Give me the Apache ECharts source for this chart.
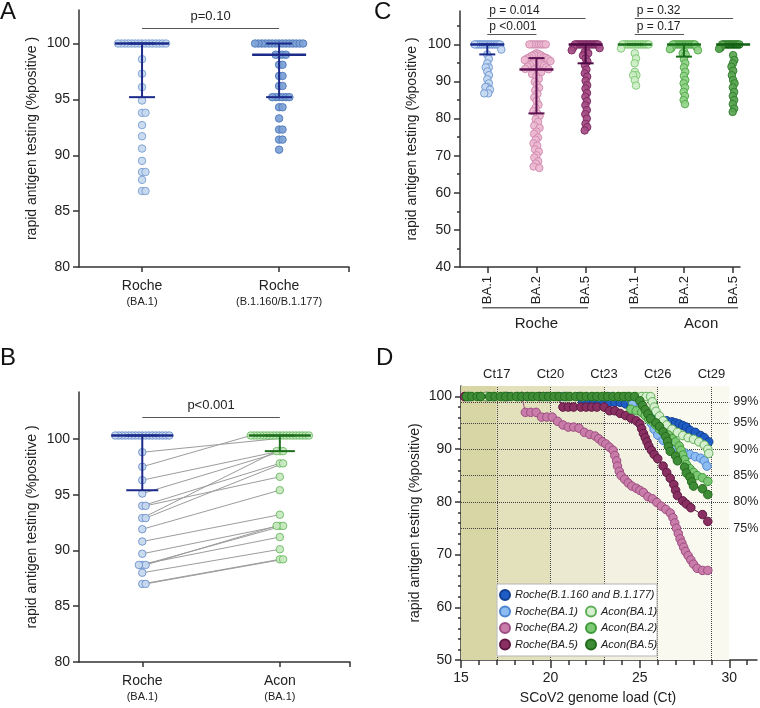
<!DOCTYPE html>
<html>
<head>
<meta charset="utf-8">
<script src="https://cdn.jsdelivr.net/npm/echarts@6/dist/echarts.min.js"></script>
<style>
  html, body { margin: 0; padding: 0; background: #fff; }
  #main { width: 760px; height: 708px; }
</style>
</head>
<body>
<div id="main"></div>
<script>
const FONT = 'Liberation Sans, Arial, Helvetica, sans-serif'

/* ---------- A: Roche BA.1 vs B.1.160/B.1.177 ---------- */
const aLabels = ['Roche', 'Roche']
const aSubLabels = ['(BA.1)', '(B.1.160/B.1.177)']
const aRocheBA1 = [100, 100, 100, 100, 100, 100, 100, 100, 100, 100, 100, 100, 100, 100, 100,
  98.6, 97.3, 96.1, 94.9, 93.8, 93.8, 92.7, 91.7, 90.6, 89.5, 88.5, 88.5, 87.8, 86.8, 86.8]
const aRocheB1160 = [100, 100, 100, 100, 100, 100, 100, 100, 100, 100, 100, 100, 100, 100, 100,
  99.0, 99.0, 99.0, 99.0, 98.1, 98.1, 97.1, 97.1, 96.2, 96.2,
  95.2, 95.2, 95.2, 95.2, 95.2, 95.2, 94.3, 94.3, 93.3, 92.3, 92.3, 91.4, 91.4, 90.5]
// [上限, 中位数, 下限]
const aBars = [[100, 100, 95.2], [100, 99.0, 95.2]]
const aP = 'p=0.10'

/* ---------- B: paired Roche vs Acon (BA.1) ---------- */
const bLabels = ['Roche', 'Acon']
const bSubLabels = ['(BA.1)', '(BA.1)']
const bRoche = [100.3, 100.3, 100.3, 100.3, 100.3, 100.3, 100.3, 100.3, 100.3, 100.3, 100.3, 100.3, 100.3, 100.3, 100.3, 100.3, 100.3,
  98.8, 97.5, 96.3, 95.1, 94.0, 94.0, 92.9, 92.9, 91.9, 90.8, 89.7, 88.7, 88.7, 88.7, 88.0, 87.0, 87.0]
const bAcon = [100.3, 100.3, 100.3, 100.3, 100.3, 100.3, 100.3, 100.3, 100.3, 100.3, 100.3, 100.3, 100.3, 100.3, 100.3, 100.3, 100.3,
  100.3, 100.3, 98.9, 98.9, 97.8, 96.6, 98.9, 97.8, 95.4, 93.2, 92.2, 92.2, 92.2, 91.2, 90.1, 89.2, 89.2]
const bBars = [[100.3, 100.3, 95.4], [100.3, 100.3, 98.9]]
const bP = 'p<0.001'

/* ---------- C: variants per test ---------- */
const cCats = ['BA.1', 'BA.2', 'BA.5', 'BA.1', 'BA.2', 'BA.5']
const cGroups = ['Roche', 'Acon']
const cRocheBA1 = aRocheBA1
const cRocheBA2 = [100, 100, 100, 100, 100, 100, 100, 100,
  97.6, 97.4, 97.2, 97.0, 96.9, 96.6, 96.5, 96.4, 96.2, 96.0,
  95.8, 95.6, 95.5, 95.2, 95.0, 94.8, 94.6, 94.4, 94.3, 94.0, 93.8, 93.6, 93.4, 93.3, 93.2,
  92.9, 92.5, 92.0, 91.4, 90.7, 89.9, 89.1, 88.3, 87.6, 86.7, 85.7, 84.8, 83.7, 82.9, 82.0, 81.4,
  80.7, 79.8, 79.1, 78.1, 77.5, 76.5, 75.9, 74.9, 74.3, 73.3, 72.7, 71.7, 71.1, 70.1, 69.5, 68.5, 67.9, 67.1, 66.7]
const cRocheBA5 = [100, 100, 100, 100, 100, 100, 100, 100, 100, 100, 100, 100, 100, 100,
  99.2, 99.0, 98.4, 98.2, 97.9, 97.6, 97.0, 96.2, 95.4, 94.4, 93.2, 92.2, 91.3, 90.2, 89.0,
  88.1, 86.9, 85.9, 84.7, 83.6, 82.3, 81.2, 80.0, 78.6, 77.7, 76.8]
const cAconBA1 = [100, 100, 100, 100, 100, 100, 100, 100, 100, 100, 100, 100, 100, 100, 100, 100,
  98.9, 97.6, 96.2, 94.9, 92.6, 91.7, 91.7, 90.4, 88.9]
const cAconBA2 = [100, 100, 100, 100, 100, 100, 100, 100, 100, 100, 100, 100, 100, 100, 100,
  99.3, 99.0, 98.7, 98.4, 98.0, 97.6, 97.2, 96.0, 94.9, 93.8, 92.6, 91.5, 90.4, 89.5, 88.4,
  87.2, 86.1, 85.0, 83.9]
const cAconBA5 = [100, 100, 100, 100, 100, 100, 100, 100, 100, 100, 100, 100, 100, 100, 100,
  99.4, 99.1, 98.8, 97.1, 95.8, 94.9, 94.0, 92.9, 91.7, 90.4, 89.5, 88.4, 87.2, 86.1, 85.0,
  83.9, 82.7, 81.8]
const cBars = [[100, 100, 97.3], [96.3, 93.2, 81.4], [100, 100, 94.9],
  [100, 100, 100], [100, 100, 96.7], [100, 100, 99.2]]
// p值标注: [起点类别, 终点类别, 高度, 文本]
const cPvals = [[1, 3, 107.0, 'p = 0.014'], [1, 2, 102.7, 'p <0.001'],
  [4, 6, 107.0, 'p = 0.32'], [4, 5, 102.7, 'p = 0.17']]

/* ---------- D: cumulative positivity vs Ct ---------- */
const dCtMarks = [17, 20, 23, 26, 29]
const dPctMarks = [99, 95, 90, 85, 80, 75]
const dRocheB1160 = [[15.4, 100], [16.5, 100], [17.6, 100], [18.7, 100], [19.8, 100], [20.9, 100], [21.6, 100],
  [21.8, 98.9], [22.1, 98.9], [22.4, 98.9], [22.7, 98.9], [23.0, 98.9], [23.3, 98.9], [23.6, 98.9], [23.9, 98.9],
  [24.2, 98.6], [24.5, 98.0], [24.8, 97.6], [25.0, 97.3], [25.3, 96.6], [25.6, 96.0], [25.9, 95.6], [26.2, 95.4],
  [26.5, 95.4], [26.8, 95.2], [27.0, 95.0], [27.2, 94.8], [27.4, 94.5], [27.6, 94.2], [27.8, 93.6], [28.1, 93.2],
  [28.4, 92.6], [28.6, 92.2], [28.85, 91.4]]
const dRocheBA1 = [[15.5, 100], [16.8, 100], [18.1, 100], [19.4, 100], [20.7, 100], [22.0, 100], [23.3, 100], [24.3, 100],
  [24.6, 98.6], [24.9, 97.6], [25.2, 97.3], [25.45, 96.4], [25.65, 94.9], [25.8, 93.8], [26.0, 92.7], [26.3, 91.7],
  [26.6, 90.6], [26.9, 90.0], [27.2, 89.6], [27.5, 89.3], [27.8, 89.0], [28.1, 88.6], [28.4, 88.3], [28.6, 87.8],
  [28.75, 86.8]]
const dRocheBA2 = [[15.2, 100], [16.4, 100], [17.5, 100], [18.4, 100], [18.6, 97.0], [18.9, 97.0], [19.2, 97.0],
  [19.5, 96.1], [19.8, 96.1], [20.1, 96.1], [20.4, 95.3], [20.7, 94.6], [21.0, 94.2], [21.3, 94.2], [21.6, 94.0],
  [21.9, 93.2], [22.2, 92.8], [22.5, 92.5], [22.7, 92.0], [22.9, 91.4], [23.1, 91.0], [23.3, 90.4], [23.5, 89.8],
  [23.6, 88.8], [23.7, 87.8], [23.75, 86.8], [23.85, 85.8], [23.95, 85.0], [24.15, 84.3], [24.35, 83.6],
  [24.55, 83.0], [24.8, 82.6], [25.0, 82.2], [25.2, 81.8], [25.45, 81.0], [25.7, 80.6], [25.95, 79.9],
  [26.2, 79.2], [26.45, 78.6], [26.7, 77.9], [26.85, 77.0], [26.95, 76.0], [27.05, 75.0], [27.15, 74.0],
  [27.25, 73.0], [27.35, 72.2], [27.45, 71.4], [27.55, 70.6], [27.7, 69.8], [27.85, 69.0], [28.0, 68.2],
  [28.2, 67.4], [28.5, 67.0], [28.8, 67.0]]
const dRocheBA5 = [[15.2, 100], [16.4, 100], [17.4, 100], [18.4, 100], [19.4, 100], [20.4, 100],
  [20.7, 98.0], [21.0, 98.0], [21.3, 98.0], [21.7, 98.0], [22.0, 98.0], [22.3, 98.0], [22.6, 98.0], [23.0, 98.0],
  [23.3, 97.3], [23.6, 97.3], [23.9, 96.8], [24.2, 96.4], [24.5, 95.9], [24.8, 95.4], [25.0, 94.8], [25.1, 93.9],
  [25.2, 93.0], [25.3, 92.2], [25.4, 91.4], [25.5, 90.6], [25.65, 89.8], [25.8, 89.0], [26.0, 88.2], [26.3, 86.8],
  [26.5, 85.6], [26.7, 84.5], [26.9, 83.3], [27.0, 82.2], [27.1, 81.2], [27.4, 80.2], [27.6, 79.6], [27.85, 78.9],
  [28.5, 77.6], [28.8, 76.3]]
const dAconBA1 = [[15.5, 100], [16.4, 100], [17.3, 100], [18.2, 100], [19.1, 100], [20.0, 100], [20.9, 100],
  [21.8, 100], [22.7, 100], [23.5, 100], [24.0, 100], [24.4, 100], [24.8, 100], [25.1, 100], [25.35, 100],
  [25.6, 100], [25.7, 99.0], [25.8, 98.0], [25.9, 97.2], [26.1, 96.3], [26.3, 95.4], [26.5, 94.6], [26.8, 93.8],
  [27.1, 93.2], [27.4, 92.6], [27.7, 92.2], [28.0, 91.9], [28.3, 91.4], [28.6, 90.8], [28.8, 90.0], [28.85, 89.2]]
const dAconBA2 = [[15.4, 100], [16.1, 100], [16.8, 100], [17.5, 100], [18.2, 100], [18.9, 100], [19.6, 100],
  [20.3, 100], [21.0, 100], [21.7, 100], [22.4, 100], [23.1, 100], [23.8, 100], [24.2, 100],
  [24.5, 97.6], [24.8, 97.3], [25.1, 97.0], [25.3, 96.4], [25.5, 95.7], [25.7, 95.3], [25.9, 94.6], [26.1, 93.8],
  [26.3, 93.3], [26.6, 92.7], [26.8, 92.0], [27.0, 91.4], [27.2, 90.6], [27.3, 89.8], [27.4, 88.9], [27.5, 88.0],
  [27.6, 87.1], [27.8, 86.3], [28.0, 85.6], [28.2, 85.0], [28.5, 84.6], [28.8, 83.9]]
const dAconBA5 = [[15.3, 100], [15.6, 100], [15.9, 100], [16.1, 100], [16.6, 100], [16.9, 100], [17.2, 100],
  [17.5, 100], [17.8, 100], [18.1, 100], [18.4, 100], [18.7, 100], [19.0, 100], [19.3, 100], [19.6, 100],
  [19.9, 100], [20.2, 100], [20.5, 100], [20.8, 100], [21.1, 100], [21.4, 100], [21.7, 100], [22.0, 100],
  [22.3, 100], [22.6, 100], [22.9, 100], [23.2, 100], [23.5, 100], [23.8, 100], [24.1, 100], [24.4, 100],
  [24.7, 100], [25.0, 99.2], [25.15, 98.3], [25.3, 97.5], [25.45, 96.7], [25.6, 95.8], [25.9, 95.0],
  [26.1, 94.3], [26.3, 93.3], [26.45, 92.4], [26.55, 91.5], [26.6, 90.5], [26.7, 89.6], [27.0, 88.7],
  [27.1, 87.8], [27.5, 86.6], [27.6, 85.5], [27.8, 84.7], [27.9, 83.8], [28.0, 83.0], [28.5, 82.5], [28.8, 81.4]]

/* ---------- 布局 ---------- */
const L = {
  A: { left: 79, top: 10, width: 270, height: 257, xMin: 0.08, xMax: 4.02, yMin: 80, yMax: 103 },
  B: { left: 79, top: 392, width: 271, height: 270, xMin: 0.08, xMax: 4.02, yMin: 80, yMax: 104.2 },
  C: { left: 460, top: 11, width: 280, height: 256, xMin: 0.445, xMax: 6.14, yMin: 40, yMax: 109 },
  D: { left: 461, top: 386, width: 296, height: 274, xMin: 15, xMax: 31.55, yMin: 50, yMax: 102 }
}
const pxX = g => g.width / (g.xMax - g.xMin)
const pxY = g => g.height / (g.yMax - g.yMin)

// 蜂群散点: 像素空间里避让, 再按列宽压缩
const swarm = (values, center, g, dot, maxHalf) => {
  const placed = []
  values.forEach(v => {
    const y = v * pxY(g)
    let off = 0
    for (let k = 0; k < 800; k++) {
      const o = (k % 2 ? 1 : -1) * Math.ceil(k / 2) * 0.5
      if (placed.every(p => (p.x - o) ** 2 + (p.y - y) ** 2 >= dot * dot)) { off = o; break }
    }
    placed.push({ x: off, y })
  })
  const widest = Math.max(0.001, ...placed.map(p => Math.abs(p.x)))
  const k = Math.min(1, maxHalf / widest)
  return placed.map((p, i) => [center + p.x * k / pxX(g), values[i]])
}

const axisLineStyle = { color: '#333', width: 1.5 }
const labelStyle = { color: '#222', fontSize: 14, fontFamily: FONT }

const scatter = (name, xi, yi, pts, fill, border, size, extra) => Object.assign({
  name, type: 'scatter', xAxisIndex: xi, yAxisIndex: yi, data: pts,
  symbol: 'circle', symbolSize: size, z: 3,
  itemStyle: { color: fill, borderColor: border, borderWidth: 1, opacity: 0.92 }
}, extra || {})

const errBar = (xi, yi, x, stat, color, midHalf, capHalf) => ({
  type: 'custom', xAxisIndex: xi, yAxisIndex: yi, z: 6, silent: true,
  data: [[x, stat[0], stat[1], stat[2]]],
  renderItem: (params, api) => {
    const xv = api.value(0)
    const hi = api.coord([xv, api.value(1)])
    const mid = api.coord([xv, api.value(2)])
    const lo = api.coord([xv, api.value(3)])
    const seg = (x1, y1, x2, y2, w) => ({ type: 'line', shape: { x1, y1, x2, y2 }, style: { stroke: color, lineWidth: w } })
    return {
      type: 'group', children: [
        seg(hi[0], hi[1], lo[0], lo[1], 2),
        seg(hi[0] - capHalf, hi[1], hi[0] + capHalf, hi[1], 2),
        seg(lo[0] - capHalf, lo[1], lo[0] + capHalf, lo[1], 2),
        seg(mid[0] - midHalf, mid[1], mid[0] + midHalf, mid[1], 2.5)
      ]
    }
  }
})

const yAxisBase = (gi, g, ticks, name, gap) => ({
  type: 'value', gridIndex: gi, min: g.yMin, max: g.yMax, position: 'left',
  axisLine: { show: true, onZero: false, lineStyle: axisLineStyle },
  axisTick: { show: true, customValues: ticks, length: 6, lineStyle: axisLineStyle },
  axisLabel: { customValues: ticks, margin: 9, ...labelStyle },
  splitLine: { show: false },
  name, nameLocation: 'middle', nameGap: gap,
  nameTextStyle: { fontSize: 14, color: '#222', fontFamily: FONT }
})
// 次刻度: 叠加一条不画轴线的同范围坐标轴
const minorAxis = (type, gi, g, ticks, len) => ({
  type: 'value', gridIndex: gi, position: type === 'x' ? 'bottom' : 'left',
  min: type === 'x' ? g.xMin : g.yMin, max: type === 'x' ? g.xMax : g.yMax,
  axisLine: { show: false, onZero: false }, axisLabel: { show: false }, splitLine: { show: false },
  axisTick: { show: true, customValues: ticks, length: len, lineStyle: axisLineStyle }
})
const pairAxis = (gi, g, names, subs) => ({
  type: 'value', gridIndex: gi, min: g.xMin, max: g.xMax, position: 'bottom',
  axisLine: { show: true, onZero: false, lineStyle: axisLineStyle },
  axisTick: { show: true, customValues: [1, 3, g.xMax], length: 5, lineStyle: axisLineStyle },
  axisLabel: {
    customValues: [1, 3], margin: 11,
    formatter: v => { const i = Math.round((v - 1) / 2); return `{m|${names[i]}}\n{s|${subs[i]}}` },
    rich: {
      m: { fontSize: 14, lineHeight: 16, color: '#222', fontFamily: FONT },
      s: { fontSize: 11, lineHeight: 16, color: '#222', fontFamily: FONT }
    }
  },
  splitLine: { show: false }
})

const yName = 'rapid antigen testing (%positive )'

/* ---------- series ---------- */
const series = []

// A
const aPts1 = swarm(aRocheBA1, 1, L.A, 7.5, 24)
const aPts2 = swarm(aRocheB1160, 3, L.A, 7.5, 24)
series.push(scatter('aBA1', 0, 0, aPts1, '#c8d9ef', '#7a9fd3', 7.5, {
  markLine: {
    silent: true, symbol: 'none', animation: false,
    lineStyle: { color: '#555', width: 1.2, type: 'solid' },
    label: { show: true, position: 'insideMiddleTop', distance: 5, fontSize: 13, color: '#222', fontFamily: FONT },
    data: [[{ coord: [1, 101.4], label: { formatter: aP } }, { coord: [3, 101.4] }]]
  }
}))
series.push(scatter('aB1160', 0, 0, aPts2, '#7da2d6', '#4f78bb', 7.5))
series.push(errBar(0, 0, 1, aBars[0], '#1c2a8a', 27, 13))
series.push(errBar(0, 0, 3, aBars[1], '#1c2a8a', 27, 13))

// B
const bPts1 = swarm(bRoche, 1, L.B, 7.5, 27)
const bPts2 = swarm(bAcon, 3, L.B, 7.5, 29)
series.push({
  type: 'lines', coordinateSystem: 'cartesian2d', xAxisIndex: 1, yAxisIndex: 1, z: 2, silent: true,
  lineStyle: { color: '#9c9c9c', width: 1, opacity: 1 },
  data: bRoche.map((v, i) => ({ v, a: bAcon[i], i }))
    .filter(d => !(d.v >= 100 && d.a >= 100))
    .map(d => ({ coords: [bPts1[d.i], bPts2[d.i]] }))
})
series.push(scatter('bRoche', 1, 1, bPts1, '#c8d9ef', '#6f93cc', 7.5, {
  markLine: {
    silent: true, symbol: 'none', animation: false,
    lineStyle: { color: '#555', width: 1.2, type: 'solid' },
    label: { show: true, position: 'insideMiddleTop', distance: 6, fontSize: 13, color: '#222', fontFamily: FONT },
    data: [[{ coord: [1, 101.9], label: { formatter: bP } }, { coord: [3, 101.9] }]]
  }
}))
series.push(scatter('bAcon', 1, 1, bPts2, '#c8e9c0', '#6dbb65', 7.5))
series.push(errBar(1, 1, 1, bBars[0], '#1c2a8a', 31, 16))
series.push(errBar(1, 1, 3, bBars[1], '#1e6e1e', 31, 15))

// C
const cSets = [cRocheBA1, cRocheBA2, cRocheBA5, cAconBA1, cAconBA2, cAconBA5]
const cFill = ['#c5d9f1', '#ebb9d0', '#a54d84', '#cdeec6', '#92d48a', '#5aa552']
const cBorder = ['#6e96d0', '#d08ab0', '#7b2660', '#7cc872', '#4fa647', '#2f7c29']
const cBarColor = ['#1a2a8c', '#5c1150', '#4e0a45', '#1b6e1b', '#1b6e1b', '#135f13']
cSets.forEach((vals, i) => {
  const extra = i === 0 ? {
    markLine: {
      silent: true, symbol: 'none', animation: false,
      lineStyle: { color: '#555', width: 1.2, type: 'solid' },
      label: { show: true, position: 'insideStartTop', distance: 2, fontSize: 12, color: '#222', fontFamily: FONT },
      data: cPvals.map(p => [{ coord: [p[0], p[2]], label: { formatter: p[3] } }, { coord: [p[1], p[2]] }])
    }
  } : {}
  series.push(scatter('c' + i, 2, 2, swarm(vals, i + 1, L.C, 7.5, 14), cFill[i], cBorder[i], 7.5, extra))
})
cBars.forEach((b, i) => series.push(errBar(2, 2, i + 1, b, cBarColor[i], 17, 8)))

// D
const dSeries = [
  ['Roche(B.1.160 and B.1.177)', dRocheB1160, '#1f5dc6', '#123f90'],
  ['Roche(BA.1)', dRocheBA1, '#8cbcf2', '#4f86d0'],
  ['Roche(BA.2)', dRocheBA2, '#c97ba9', '#9c4e80'],
  ['Roche(BA.5)', dRocheBA5, '#8a2f62', '#5f1842'],
  ['Acon(BA.1)', dAconBA1, '#d6efcf', '#5fae56'],
  ['Acon(BA.2)', dAconBA2, '#7dc975', '#3f9a38'],
  ['Acon(BA.5)', dAconBA5, '#3f8c36', '#226b1c']
]
const dBands = [[15, 17, '#d9d6a6'], [17, 20, '#e3e1bb'], [20, 23, '#ebead0'], [23, 26, '#f3f2e2'], [26, 30, '#f9f9f0']]
dSeries.forEach(([name, pts, fill, border], i) => {
  const s = {
    name, type: 'line', xAxisIndex: 3, yAxisIndex: 4, data: pts,
    symbol: 'circle', symbolSize: 8.5, showSymbol: true, showAllSymbol: true, z: 3 + i,
    itemStyle: { color: fill, borderColor: border, borderWidth: 1 },
    lineStyle: { color: border, width: 1 }
  }
  if (i === 0) {
    s.markArea = {
      silent: true, animation: false,
      data: dBands.map(b => [{ xAxis: b[0], itemStyle: { color: b[2] } }, { xAxis: b[1] }])
    }
    s.markLine = {
      silent: true, symbol: 'none', animation: false, z: 1,
      lineStyle: { color: '#444', width: 1, type: 'dotted' },
      label: { show: true, position: 'end', fontSize: 13, color: '#222', fontFamily: FONT },
      data: [
        ...dCtMarks.map(c => ({ xAxis: c, label: { formatter: 'Ct' + c, distance: 5 } })),
        ...dPctMarks.map(p => [{ coord: [15, p], label: { formatter: p + '%', distance: 4, fontSize: 12.5 } }, { coord: [30, p] }])
      ]
    }
  }
  series.push(s)
})

/* ---------- 图例 ---------- */
const legendBase = {
  icon: 'circle', itemWidth: 10, itemHeight: 10, padding: 0, selectedMode: false, z: 60,
  textStyle: { fontSize: 11, fontStyle: 'italic', color: '#222', fontFamily: FONT }
}

/* ---------- 图形: 面板C分组括号 + 图例框 ---------- */
const toPxC = x => L.C.left + (x - L.C.xMin) * pxX(L.C)
const cBracketY = L.C.top + L.C.height + 40.7
const cBrackets = [[0.9, 3.05, 2.0], [3.9, 6.1, 5.35]]
const graphic = []
cBrackets.forEach((b, i) => {
  graphic.push({ type: 'line', shape: { x1: toPxC(b[0]), y1: cBracketY, x2: toPxC(b[1]), y2: cBracketY },
    style: { stroke: '#666', lineWidth: 1.5 } })
  graphic.push({ type: 'text', x: toPxC(b[2]), y: cBracketY + 16,
    style: { text: cGroups[i], fontSize: 15, fontFamily: FONT, fill: '#222', align: 'center', verticalAlign: 'middle' } })
})
graphic.push({ type: 'rect', z: 50, shape: { x: 497, y: 584, width: 160, height: 72 },
  style: { fill: '#fff', stroke: '#b5b5b5', lineWidth: 1 } })

const option = {
  animation: false,
  backgroundColor: '#fff',
  title: [
    { text: 'A', left: 0, top: 0 },
    { text: 'B', left: 0, top: 346 },
    { text: 'C', left: 374, top: 0 },
    { text: 'D', left: 376, top: 346 }
  ].map(t => ({ ...t, padding: 0, textStyle: { fontSize: 24, fontWeight: 'normal', color: '#111', fontFamily: FONT } })),
  grid: ['A', 'B', 'C', 'D'].map(k => ({ left: L[k].left, top: L[k].top, width: L[k].width, height: L[k].height })),
  xAxis: [
    pairAxis(0, L.A, aLabels, aSubLabels),
    pairAxis(1, L.B, bLabels, bSubLabels),
    {
      type: 'value', gridIndex: 2, min: L.C.xMin, max: L.C.xMax, position: 'bottom',
      axisLine: { show: true, onZero: false, lineStyle: axisLineStyle },
      axisTick: { show: true, customValues: [1, 2, 3, 4, 5, 6], length: 6, lineStyle: axisLineStyle },
      axisLabel: { customValues: [1, 2, 3, 4, 5, 6], rotate: 90, margin: 9, ...labelStyle, fontSize: 13,
        formatter: v => cCats[Math.round(v) - 1] },
      splitLine: { show: false }
    },
    {
      type: 'value', gridIndex: 3, min: L.D.xMin, max: L.D.xMax, position: 'bottom',
      axisLine: { show: true, onZero: false, lineStyle: axisLineStyle },
      axisTick: { show: true, customValues: [15, 20, 25, 30], length: 8, lineStyle: axisLineStyle },
      axisLabel: { customValues: [15, 20, 25, 30], margin: 11, ...labelStyle },
      splitLine: { show: false },
      name: 'SCoV2 genome load (Ct)', nameLocation: 'middle', nameGap: 31,
      nameTextStyle: { fontSize: 14, color: '#222', fontFamily: FONT, padding: [0, 22, 0, 0] }
    },
    minorAxis('x', 3, L.D, [16, 17, 18, 19, 21, 22, 23, 24, 26, 27, 28, 29, 31], 5)
  ],
  yAxis: [
    yAxisBase(0, L.A, [80, 85, 90, 95, 100], yName, 40),
    yAxisBase(1, L.B, [80, 85, 90, 95, 100], yName, 40),
    yAxisBase(2, L.C, [40, 50, 60, 70, 80, 90, 100], yName, 41),
    minorAxis('y', 2, L.C, [45, 55, 65, 75, 85, 95, 105], 3),
    yAxisBase(3, L.D, [50, 60, 70, 80, 90, 100], 'rapid antigen testing (%positive)', 39),
    minorAxis('y', 3, L.D, [52, 54, 56, 58, 62, 64, 66, 68, 72, 74, 76, 78, 82, 84, 86, 88, 92, 94, 96, 98], 3)
  ],
  legend: [
    { ...legendBase, data: ['Roche(B.1.160 and B.1.177)'], left: 499, top: 589 },
    { ...legendBase, data: ['Roche(BA.1)', 'Roche(BA.2)', 'Roche(BA.5)'], orient: 'vertical', itemGap: 4.5, left: 499, top: 605.5 },
    { ...legendBase, data: ['Acon(BA.1)', 'Acon(BA.2)', 'Acon(BA.5)'], orient: 'vertical', itemGap: 4.5, left: 585, top: 605.5 }
  ],
  graphic,
  series
}

const myChart = echarts.init(document.querySelector('#main'))
myChart.setOption(option)
</script>
</body>
</html>
